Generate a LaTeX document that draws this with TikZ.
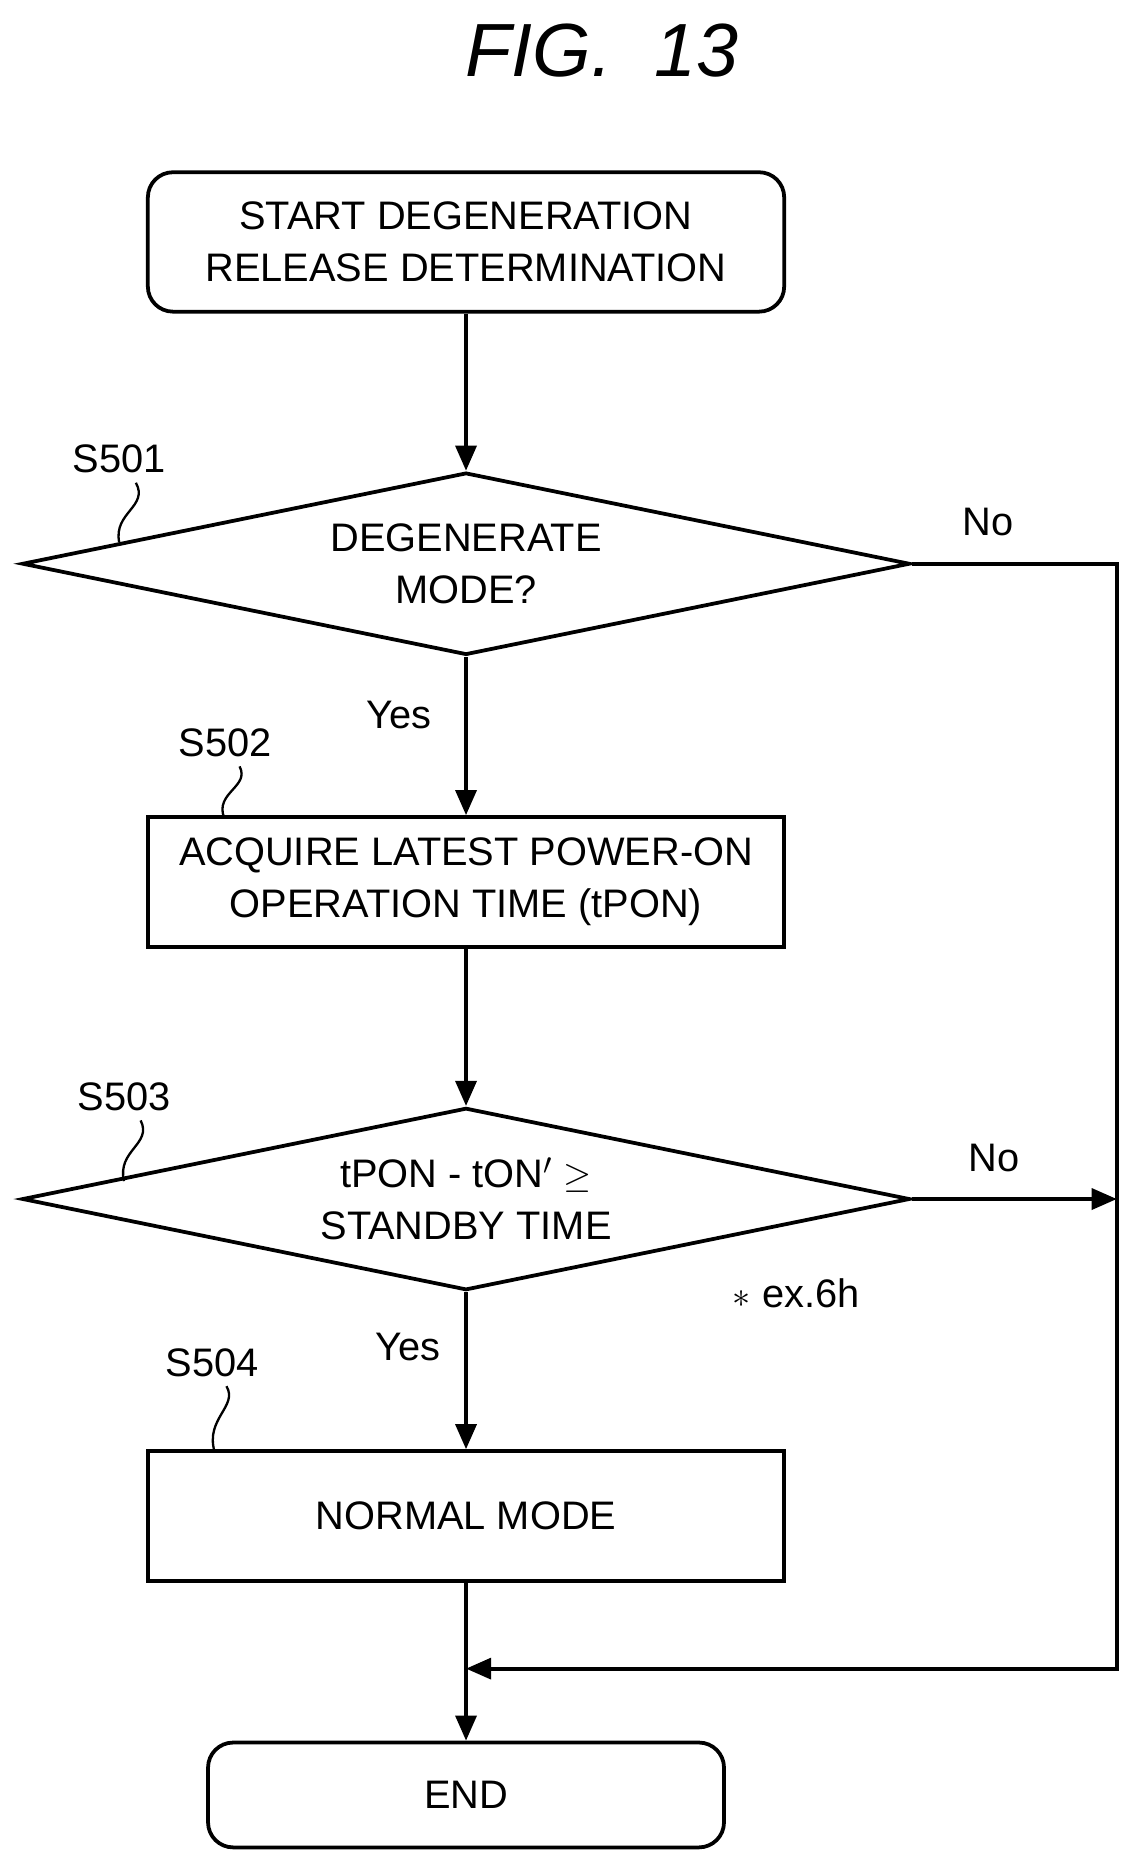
\documentclass[tikz,border=0pt]{standalone}
\usepackage{fontspec}
\setmainfont{Liberation Sans}
\usetikzlibrary{shapes.geometric,arrows.meta}
\begin{document}
\begin{tikzpicture}[x=0.02cm,y=-0.02cm,
  every node/.style={font=\fontsize{19}{25}\selectfont},
  step box/.style={rectangle,draw,line width=1.8pt,minimum width=10.68cm,minimum height=2.18cm,align=center,inner sep=0},
  term box/.style={step box,rounded corners=12pt},
  test node/.style={diamond,draw,line width=1.8pt,aspect=4.87,minimum width=14.9cm,minimum height=3.06cm,inner sep=0,align=center},
  flow/.style={line width=1.8pt,-{Triangle[length=12pt,width=10pt]}},
  wave/.style={line width=1.1pt}]%
  \useasboundingbox (0,0) rectangle (960,1574);
  \node (fig) at (505,42) {\fontsize{36}{36}\selectfont\itshape FIG.\ \ 13};

  \node[term box,minimum height=2.34cm] (start) at (391,203) {START DEGENERATION\\RELEASE DETERMINATION};
  \node[test node] (s501) at (391,473) {DEGENERATE\\MODE?};
  \node[step box] (s502) at (391,740) {ACQUIRE LATEST POWER-ON\\OPERATION TIME (tPON)};
  \node[test node] (s503) at (391,1006) {tPON - tON$'$ $\geq$\\STANDBY TIME};
  \node[step box] (s504) at (391,1272) {NORMAL MODE};
  \node[term box,minimum width=8.66cm,minimum height=1.76cm] (end) at (391,1506) {END};

  % step labels
  \node (l501) at (100,385) {S501};
  \node (l502) at (189,623) {S502};
  \node (l503) at (104,920) {S503};
  \node (l504) at (178,1143) {S504};
  \draw[wave] (l501.south) ++(14,2) .. controls (125,425) and (95,430) .. (100,455);
  \draw[wave] (l502.south) ++(12,2) .. controls (210,660) and (180,665) .. (188,686);
  \draw[wave] (l503.south) ++(14,2) .. controls (128,960) and (98,965) .. (104,991);
  \draw[wave] (l504.south) ++(12,2) .. controls (200,1180) and (172,1190) .. (180,1218);

  % branch labels
  \node (no1) at (829,438) {No};
  \node (no2) at (834,972) {No};
  \node (yes1) at (335,600) {Yes};
  \node (yes2) at (342,1130) {Yes};
  \node (note) at (668,1085) {$*$ ex.6h};

  \coordinate (c1) at (937,473);
  \coordinate (c2) at (937,1006);
  \coordinate (c3) at (937,1400);
  \coordinate (c4) at (391,1400);

  \draw[flow] (start) -- (s501);
  \draw[flow] (s501) -- (s502);
  \draw[flow] (s502) -- (s503);
  \draw[flow] (s503) -- (s504);
  \draw[flow] (s504) -- (end);
  \draw[flow] (s503.east) -- (c2);
  \draw[flow] (s501.east) -- (c1) -- (c3) -- (c4);
\end{tikzpicture}
\end{document}
